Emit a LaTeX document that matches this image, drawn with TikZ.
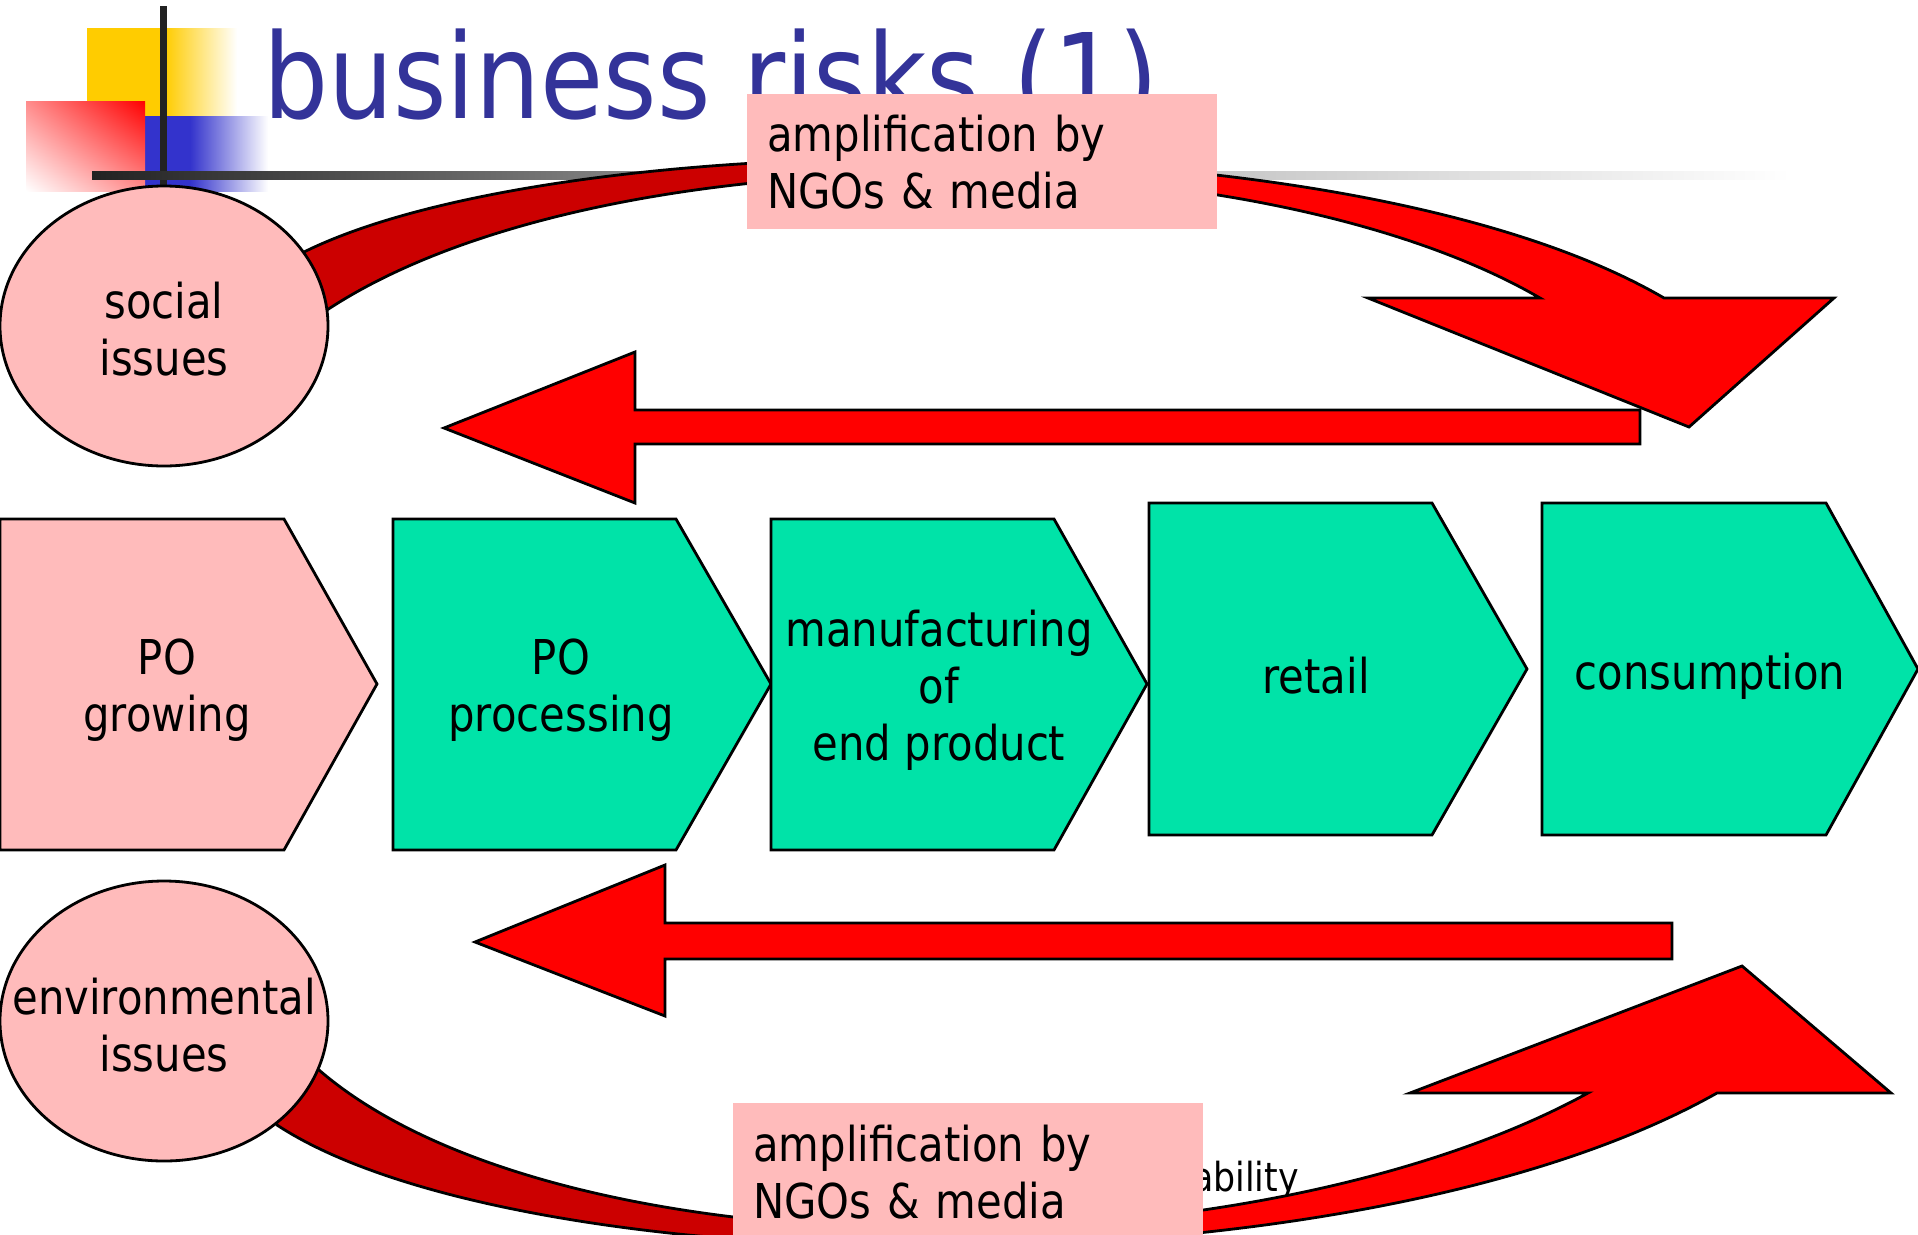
\documentclass[tikz,border=0pt]{standalone}
\usepackage{fontspec}
\setmainfont{DejaVu Sans}[FakeStretch=0.87]
\usetikzlibrary{shapes.geometric,shadings}
\definecolor{pinkfill}{HTML}{FFBBBB}
\definecolor{greenfill}{HTML}{00E3A8}
\definecolor{arrowred}{HTML}{FF0000}
\definecolor{darkred}{HTML}{CC0000}
\definecolor{titleblue}{HTML}{333399}
\definecolor{logoyellow}{HTML}{FFCC00}
\definecolor{logoblue}{HTML}{3333CC}
\definecolor{linedark}{HTML}{222222}
\definecolor{linemid}{HTML}{9A9A9A}
\newcommand{\TopArrowShape}{(327,310) .. controls (600,130) and (1250,130) .. (1540,298) -- (1368,298) -- (1689,427) -- (1834,298) -- (1664,298) .. controls (1350,115) and (560,125) .. (304,252) -- (250,290) -- cycle}
\newcommand{\BotArrowShape}{(319,1070) .. controls (560,1278) and (1250,1278) .. (1588,1093) -- (1410,1093) -- (1742,966) -- (1891,1093) -- (1717,1093) .. controls (1350,1300) and (520,1285) .. (277,1125) -- (250,1060) -- cycle}
\begin{document}
\begin{tikzpicture}[x=1pt,y=-1pt,line join=miter,
  outl/.style={draw=black,line width=2.8pt},
  chevgreen/.style={outl,fill=greenfill},
  chevpink/.style={outl,fill=pinkfill},
  bodytext/.style={font=\fontsize{48}{57}\selectfont,align=center,inner sep=0pt},
  issue/.style={ellipse,outl,fill=pinkfill,minimum width=328pt,minimum height=280pt,inner sep=0pt},
  ampbox/.style={fill=pinkfill,minimum width=470pt,anchor=north west,text width=430pt,inner xsep=20pt,inner ysep=0pt,align=left,font=\fontsize{48}{57}\selectfont}]
\useasboundingbox (0,0) rectangle (1918,1234);
% logo
\fill[logoyellow] (87,28) rectangle (165,117);
\shade[left color=logoyellow,right color=white] (165,28) rectangle (237,117);
\fill[logoblue] (145,116) rectangle (190,191);
\shade[left color=logoblue,right color=white] (190,116) rectangle (268,191);
\shade[upper right=arrowred,lower left=white,upper left=arrowred!45,lower right=arrowred!45] (26,101) rectangle (145,191);
\fill[linedark] (159.5,6) rectangle (166.5,186);
\shade[left color=linedark,right color=linemid] (92,171) rectangle (760,179);
\shade[left color=linemid,right color=white] (760,171) rectangle (1790,179);
% title
\node[anchor=base west,inner sep=0pt,text=titleblue,font=\fontsize{118}{132}\selectfont] (title) at (263,118) {business risks (1)};
% footer remnant
\node[anchor=base west,inner sep=0pt,font=\fontsize{40}{48}\selectfont] (footer) at (1192,1191) {ability};
% curved arrows
\fill[arrowred] \TopArrowShape;
\begin{scope}
  \clip (0,0) rectangle (980,1234);
  \fill[darkred] \TopArrowShape;
\end{scope}
\draw[outl] \TopArrowShape;
\fill[arrowred] \BotArrowShape;
\begin{scope}
  \clip (0,0) rectangle (968,1234);
  \fill[darkred] \BotArrowShape;
\end{scope}
\draw[outl] \BotArrowShape;
% straight arrows
\draw[outl,fill=arrowred] (444,428) -- (635,352) -- (635,410) -- (1640,410) -- (1640,444) -- (635,444) -- (635,503) -- cycle;
\draw[outl,fill=arrowred] (475,942) -- (665,865) -- (665,923) -- (1672,923) -- (1672,959) -- (665,959) -- (665,1016) -- cycle;
% chevrons
\draw[chevpink] (0,519) -- (284,519) -- (377,684) -- (284,850) -- (0,850) -- cycle;
\draw[chevgreen] (393,519) -- (676,519) -- (771,684) -- (676,850) -- (393,850) -- cycle;
\draw[chevgreen] (771,519) -- (1054,519) -- (1147,684) -- (1054,850) -- (771,850) -- cycle;
\draw[chevgreen] (1149,503) -- (1432,503) -- (1527,669) -- (1432,835) -- (1149,835) -- cycle;
\draw[chevgreen] (1542,503) -- (1826,503) -- (1918,669) -- (1826,835) -- (1542,835) -- cycle;
\node[bodytext] (growing) at (167,690) {PO\\growing};
\node[bodytext] (processing) at (561,690) {PO\\processing};
\node[bodytext] (manufacturing) at (939,690) {manufacturing\\of\\end product};
\node[bodytext] (retail) at (1316,676) {retail};
\node[bodytext] (consumption) at (1710,676) {consumption};
% issue ellipses
\node[issue] (socialE) at (164,326) {};
\node[bodytext] (social) at ([yshift=-3pt]socialE.center) {social\\issues};
\node[issue] (envE) at (164,1021) {};
\node[bodytext] (env) at ([yshift=-4pt]envE.center) {environmental\\issues};
% amplification boxes
\node[ampbox,minimum height=135pt] (amp1) at (747,94) {amplification by\\NGOs \& media};
\node[ampbox,minimum height=138pt] (amp2) at (733,1103) {amplification by\\NGOs \& media};
\end{tikzpicture}
\end{document}
